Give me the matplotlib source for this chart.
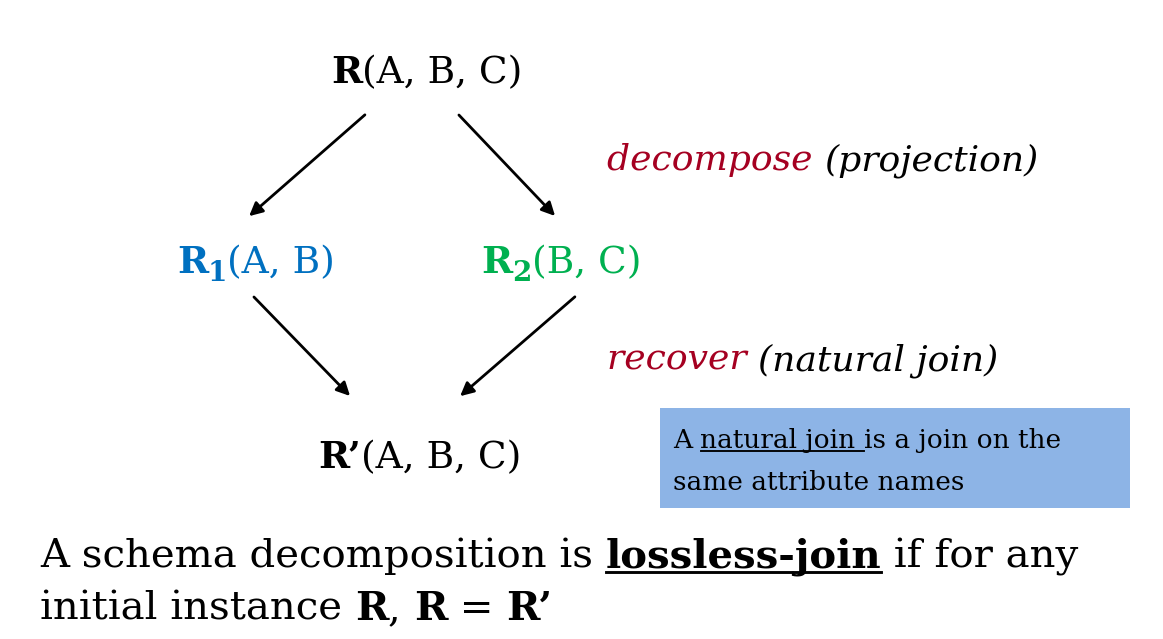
import matplotlib
matplotlib.use("Agg")
import matplotlib.pyplot as plt
from matplotlib.patches import Rectangle

W, H = 1163, 639
BLUE = "#0070C0"
GREEN = "#00B050"
RED = "#A50021"
BOX = "#8DB4E6"
FONT = "DejaVu Serif"

# nodes: (pieces, x_center, y_baseline)
top_node = [("R", dict(weight="bold")), ("(A, B, C)", {})]
left_node = [("R", dict(weight="bold", color=BLUE)), ("1", dict(weight="bold", color=BLUE, size=20, dy=8)),
             ("(A, B)", dict(color=BLUE))]
right_node = [("R", dict(weight="bold", color=GREEN)), ("2", dict(weight="bold", color=GREEN, size=20, dy=8)),
              ("(B, C)", dict(color=GREEN))]
bottom_node = [("R\u2019", dict(weight="bold")), ("(A, B, C)", {})]
step1 = [("decompose ", dict(style="italic", color=RED)), ("(projection)", dict(style="italic"))]
step2 = [("recover ", dict(style="italic", color=RED)), ("(natural join)", dict(style="italic"))]
note1 = [("A ", {}), ("natural join ", dict(underline=True)), ("is a join on the", {})]
note2 = [("same attribute names", {})]
line1 = [("A schema decomposition is ", {}), ("lossless-join", dict(weight="bold", underline=True)),
         (" if for any", {})]
line2 = [("initial instance ", {}), ("R", dict(weight="bold")), (", ", {}), ("R", dict(weight="bold")),
         (" = ", {}), ("R\u2019", dict(weight="bold"))]
arrows = [((367, 113), (247, 218)), ((457, 113), (557, 218)),
          ((252, 295), (352, 398)), ((577, 295), (458, 398))]

fig = plt.figure(figsize=(W / 100, H / 100), dpi=100)
ax = fig.add_axes([0, 0, 1, 1])
ax.set_xlim(0, W)
ax.set_ylim(H, 0)
ax.axis("off")
r = fig.canvas.get_renderer()


def draw(pieces, x, y, size=27, center=False):
    arts = []
    cx = x
    for txt, kw in pieces:
        kw = dict(kw)
        dy = kw.pop("dy", 0)
        ul = kw.pop("underline", False)
        s = kw.pop("size", size)
        t = ax.text(cx, y + dy, txt, fontsize=s, family=FONT, va="baseline", ha="left", **kw)
        w = t.get_window_extent(r).width
        arts.append((t, cx, w, ul, s))
        cx += w
    if center:
        shift = (cx - x) / 2
        for t, px, w, ul, s in arts:
            t.set_x(px - shift)
    for t, px, w, ul, s in arts:
        if ul:
            x0 = t.get_position()[0]
            ax.plot([x0, x0 + w], [y + s * 0.17, y + s * 0.17], color=t.get_color(), lw=s / 14)


draw(top_node, 427, 83, center=True)
draw(left_node, 256, 273, center=True)
draw(right_node, 561, 273, center=True)
draw(bottom_node, 420, 468, center=True)
draw(step1, 607, 170, size=26)
draw(step2, 607, 370, size=26)

ax.add_patch(Rectangle((660, 408), 470, 100, facecolor=BOX, edgecolor="none"))
draw(note1, 673, 448, size=19)
draw(note2, 673, 490, size=19)

draw(line1, 40, 567, size=29)
draw(line2, 40, 620, size=29)

for (x0, y0), (x1, y1) in arrows:
    ax.annotate("", xy=(x1, y1), xytext=(x0, y0),
                arrowprops=dict(arrowstyle="-|>", color="black", lw=2, mutation_scale=20))

fig.savefig("out.png", dpi=100)
